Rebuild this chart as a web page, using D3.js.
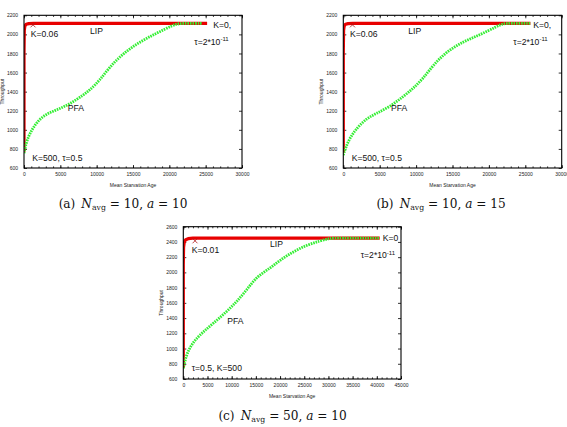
<!DOCTYPE html>
<html><head><meta charset="utf-8">
<script src="https://cdn.jsdelivr.net/npm/d3@7"></script>
<style>
html,body{margin:0;padding:0;background:#fff;}
svg{display:block;}
</style></head>
<body>
<svg id="c" width="567" height="427"></svg>
<script>
// ---------------- data ----------------
// Panel (a)  N_avg=10, a=10
const pfaA_x = [0, 370, 1280, 2660, 4500, 6330, 8160, 9080, 10460, 11830, 13670, 15960, 18260, 20550, 21400, 22500, 24500];
const pfaA_y = [755, 893, 1033, 1155, 1208, 1271, 1365, 1418, 1522, 1662, 1802, 1924, 2012, 2099, 2115, 2115, 2115];
const lipA_x = [0, 0, 40, 120, 300, 650, 1300, 25200];
const lipA_y = [770, 1800, 2040, 2088, 2106, 2113, 2115, 2115];
const markA = [1240, 2100];

// Panel (b)  N_avg=10, a=15
const pfaB_x = [0, 690, 1830, 3210, 4580, 6410, 8240, 9620, 10990, 12370, 14200, 16490, 18780, 21070, 21990, 23000, 25700];
const pfaB_y = [736, 894, 1016, 1121, 1173, 1243, 1348, 1436, 1540, 1680, 1820, 1925, 1995, 2083, 2115, 2115, 2115];
const lipB_x = [0, 0, 40, 120, 300, 650, 1300, 25700];
const lipB_y = [760, 1800, 2040, 2088, 2106, 2113, 2115, 2115];
const markB = [1260, 2100];

// Panel (c)  N_avg=50, a=10
const pfaC_x = [0, 690, 2070, 4135, 6200, 8960, 11030, 13090, 15160, 17920, 19990, 22740, 25500, 28260, 30320, 32000, 40600];
const pfaC_y = [740, 937, 1090, 1221, 1331, 1484, 1615, 1768, 1944, 2053, 2162, 2272, 2359, 2412, 2450, 2450, 2450];
const lipC_x = [0, 0, 60, 200, 500, 1000, 2000, 40600];
const lipC_y = [745, 2100, 2330, 2400, 2430, 2443, 2450, 2450];
const markC = [2420, 2415];

// tick labels
const xTicksAB = [0, 5000, 10000, 15000, 20000, 25000, 30000];
const xTicksC = [0, 5000, 10000, 15000, 20000, 25000, 30000, 35000, 40000, 45000];
const yTicksAB = [600, 800, 1000, 1200, 1400, 1600, 1800, 2000, 2200];
const yTicksC = [600, 800, 1000, 1200, 1400, 1600, 1800, 2000, 2200, 2400, 2600];

// ---------------- layout ----------------
const svg = d3.select("#c");
const FONT = "Liberation Sans, Arial, sans-serif";

const panels = [
  {left:24, top:15.3, w:218, h:152.7, xMax:30000, yMax:2200, xT:xTicksAB, yT:yTicksAB,
   pfa:[pfaA_x,pfaA_y], lip:[lipA_x,lipA_y], mark:markA,
   ann:[["K=0.06",6.7,21.4],["LIP",66,18.4],["K=0,",189.3,12.7],["TAU",170.3,29.7],["PFA",43.7,95.4],["K=500, τ=0.5",8.3,145.4]],
   cap:{x:123, y:208, letter:"a", n:"10", a:"10"}},
  {left:343.3, top:15.3, w:218.4, h:152.7, xMax:30000, yMax:2200, xT:xTicksAB, yT:yTicksAB,
   pfa:[pfaB_x,pfaB_y], lip:[lipB_x,lipB_y], mark:markB,
   ann:[["K=0.06",6.7,21.4],["LIP",65,18.4],["K=0,",190,12.7],["TAU",170,29.7],["PFA",47.7,95.4],["K=500, τ=0.5",8.4,145.4]],
   cap:{x:441, y:208, letter:"b", n:"10", a:"15"}},
  {left:183.3, top:226.7, w:217.7, h:152.3, xMax:45000, yMax:2600, xT:xTicksC, yT:yTicksC,
   pfa:[pfaC_x,pfaC_y], lip:[lipC_x,lipC_y], mark:markC,
   ann:[["K=0.01",8.4,26],["LIP",86.7,20],["K=0",199.4,14.3],["TAU",177.4,31.6],["PFA",44,97.6],["τ=0.5, K=500",8.4,144.3]],
   cap:{x:282.5, y:420, letter:"c", n:"50", a:"10"}}
];

panels.forEach(p => {
  const g = svg.append("g").attr("transform", `translate(${p.left},${p.top})`);
  const x = d3.scaleLinear().domain([0, p.xMax]).range([0, p.w]);
  const y = d3.scaleLinear().domain([600, p.yMax]).range([p.h, 0]);

  const cid = "clip" + p.cap.letter;
  g.append("clipPath").attr("id", cid).append("rect").attr("width", p.w).attr("height", p.h);

  const minorX = d3.range(0, p.xMax + 1, 1000);
  const axB = g.append("g").attr("transform", `translate(0,${p.h})`)
    .call(d3.axisBottom(x).tickValues(p.xT).tickSize(-3).tickPadding(5).tickFormat(d3.format("d")));
  const axT = g.append("g").call(d3.axisTop(x).tickValues(p.xT).tickSize(-3).tickFormat(""));
  const axL = g.append("g").call(d3.axisLeft(y).tickValues(p.yT).tickSize(-3).tickPadding(6).tickFormat(d3.format("d")));
  const axR = g.append("g").attr("transform", `translate(${p.w},0)`)
    .call(d3.axisRight(y).tickValues(p.yT).tickSize(-3).tickFormat(""));
  const mB = g.append("g").attr("transform", `translate(0,${p.h})`)
    .call(d3.axisBottom(x).tickValues(minorX).tickSize(-1.6).tickFormat(""));
  const mT = g.append("g").call(d3.axisTop(x).tickValues(minorX).tickSize(-1.6).tickFormat(""));
  [axB, axT, axL, axR, mB, mT].forEach(a => {
    a.select(".domain").remove();
    a.selectAll("line").attr("stroke", "#000").attr("stroke-width", 0.8);
    a.selectAll("text").attr("font-family", FONT).attr("font-size", 5).attr("fill", "#222");
  });
  axB.selectAll("text").attr("dy", "0.5em");

  const lipData = p.lip[0].map((v, i) => [v, p.lip[1][i]]);
  const pfaData = p.pfa[0].map((v, i) => [v, p.pfa[1][i]]);
  const plotG = g.append("g").attr("clip-path", `url(#${cid})`);
  plotG.append("path").datum(lipData)
    .attr("d", d3.line().x(d => x(d[0])).y(d => y(d[1])).curve(d3.curveLinear))
    .attr("fill", "none").attr("stroke", "#e80000").attr("stroke-width", 3.2)
    .attr("stroke-linejoin", "round");
  plotG.append("path").datum(pfaData)
    .attr("d", d3.line().x(d => x(d[0])).y(d => y(d[1])).curve(d3.curveBasis))
    .attr("fill", "none").attr("stroke", "#33ee33").attr("stroke-width", 2.8)
    .attr("stroke-dasharray", "1.6,0.9");

  // X marker
  const mx = x(p.mark[0]), my = y(p.mark[1]), s = 2.5;
  g.append("path").attr("d", `M${mx-s},${my-s}L${mx+s},${my+s}M${mx-s},${my+s}L${mx+s},${my-s}`)
    .attr("stroke", "#b01818").attr("stroke-width", 0.8);

  g.append("rect").attr("width", p.w).attr("height", p.h)
    .attr("fill", "none").attr("stroke", "#000").attr("stroke-width", 1.1);

  p.ann.forEach(([t, dx, dy]) => {
    const tx = g.append("text").attr("x", dx).attr("y", dy)
      .attr("font-family", FONT).attr("font-size", 8.6).attr("fill", "#111");
    if (t === "TAU") {
      tx.append("tspan").text("τ=2*10");
      tx.append("tspan").attr("font-size", 6).attr("dy", -3.5).text("-11");
    } else tx.text(t);
  });

  g.append("text").attr("x", p.w / 2).attr("y", p.h + 19.3).attr("text-anchor", "middle")
    .attr("font-family", FONT).attr("font-size", 5).attr("fill", "#222").text("Mean Starvation Age");
  g.append("text").attr("transform", `translate(-20.5,${p.h / 2}) rotate(-90)`).attr("text-anchor", "middle")
    .attr("font-family", FONT).attr("font-size", 5).attr("fill", "#222").text("Throughput");

  const c = svg.append("text").attr("x", p.cap.x).attr("y", p.cap.y).attr("text-anchor", "middle")
    .attr("font-family", "DejaVu Serif, Liberation Serif, serif").attr("font-size", 12.1).attr("fill", "#111");
  c.append("tspan").text(`(${p.cap.letter})\u2002`);
  c.append("tspan").attr("font-style", "italic").text("N");
  c.append("tspan").attr("font-size", 7.8).attr("dy", 2).text("avg");
  c.append("tspan").attr("dy", -2).text(` = ${p.cap.n}, `);
  c.append("tspan").attr("font-style", "italic").text("a");
  c.append("tspan").text(` = ${p.cap.a}`);
});
</script>
</body></html>
